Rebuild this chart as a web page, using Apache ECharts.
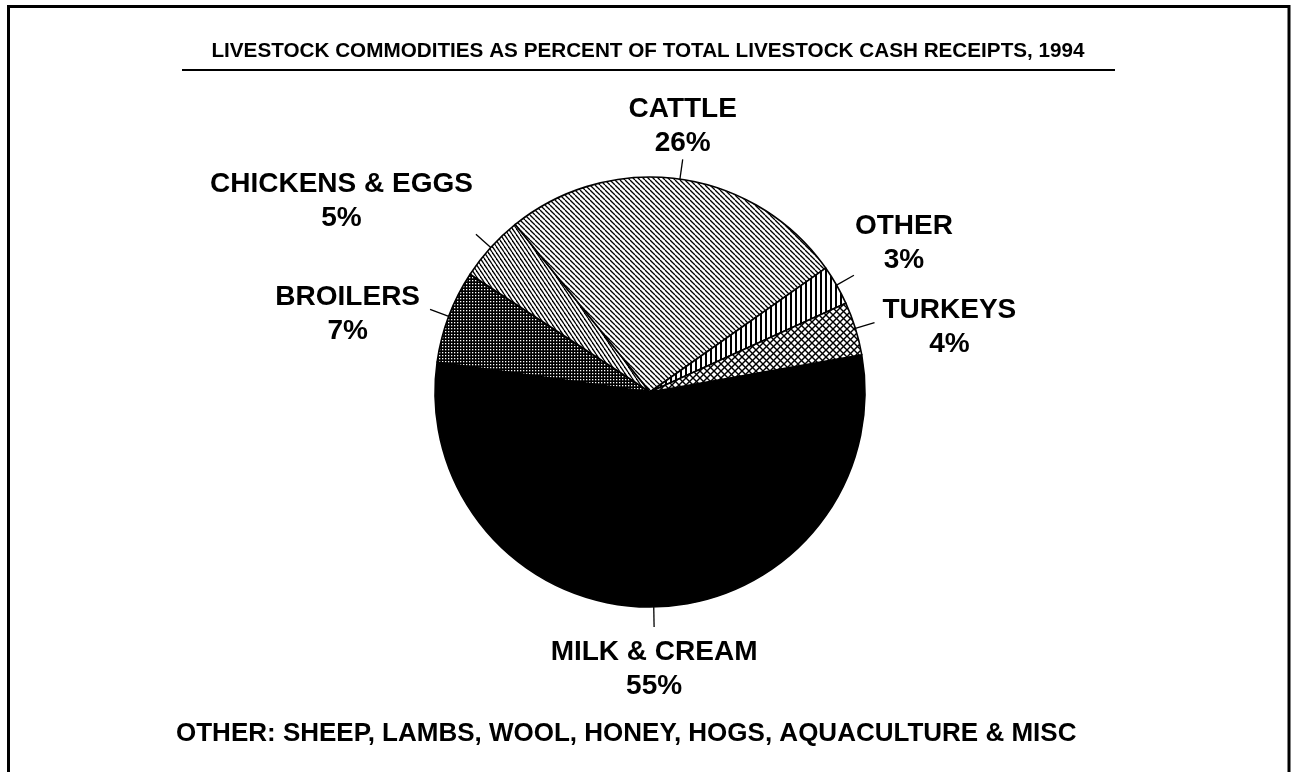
<!DOCTYPE html>
<html>
<head>
<meta charset="utf-8">
<script src="https://cdn.jsdelivr.net/npm/echarts@6/dist/echarts.min.js"></script>
<style>
  html, body { margin: 0; padding: 0; background: #fff; }
  #chart { width: 1291px; height: 772px; }
</style>
</head>
<body>
<div id="chart"></div>
<script>
// ---- data ----
const categories = ['MILK & CREAM', 'BROILERS', 'CHICKENS & EGGS', 'CATTLE', 'OTHER', 'TURKEYS'];
const percents = [55, 7, 5, 26, 3, 4];
const titleText = 'LIVESTOCK COMMODITIES AS PERCENT OF TOTAL LIVESTOCK CASH RECEIPTS, 1994';
const footnoteText = 'OTHER: SHEEP, LAMBS, WOOL, HONEY, HOGS, AQUACULTURE & MISC';

// ---- label placement relative to the end of each leader line ----
const labelAnchor = {
  'MILK & CREAM':    { side: 'center', dx: 0,   dy: 42 },
  'BROILERS':        { side: 'right',  dx: -10, dy: 5 },
  'CHICKENS & EGGS': { side: 'right',  dx: -3,  dy: -33 },
  'CATTLE':          { side: 'center', dx: 0,   dy: -33 },
  'OTHER':           { side: 'left',   dx: 1,   dy: -32 },
  'TURKEYS':         { side: 'left',   dx: 8,   dy: 4.5 }
};

// ---- hatch patterns ----
function tile(w, h, draw) {
  const c = document.createElement('canvas');
  c.width = w; c.height = h;
  const g = c.getContext('2d');
  g.fillStyle = '#fff'; g.fillRect(0, 0, w, h);
  g.strokeStyle = '#000'; g.fillStyle = '#000';
  draw(g, w, h);
  return { image: c, repeat: 'repeat' };
}
function diag(lw) {
  return function (g, w, h) {
    g.lineWidth = lw;
    for (let k = -1; k <= 1; k++) {
      g.beginPath(); g.moveTo(k * w, 0); g.lineTo(k * w + w, h); g.stroke();
    }
  };
}
const patterns = {
  'MILK & CREAM': '#000',
  'BROILERS': tile(3, 3, function (g) {
    g.fillRect(0, 0, 3, 3);
    g.fillStyle = '#fff'; g.fillRect(1, 1, 1.3, 1.3);
  }),
  'CHICKENS & EGGS': tile(4, 6, diag(1.3)),
  'CATTLE': tile(5, 5, diag(1.25)),
  'OTHER': tile(5, 5, function (g) {
    g.fillRect(0, 0, 2, 5);
  }),
  'TURKEYS': tile(7, 7, function (g, w, h) {
    g.lineWidth = 1.4;
    for (let k = -1; k <= 1; k++) {
      g.beginPath(); g.moveTo(k * w, 0); g.lineTo(k * w + w, h); g.stroke();
      g.beginPath(); g.moveTo(k * w + w, 0); g.lineTo(k * w, h); g.stroke();
    }
  })
};

const FONT = '"Liberation Sans", Arial, Helvetica, sans-serif';

const pieData = categories.map(function (name, i) {
  return { name: name, value: percents[i], itemStyle: { color: patterns[name] } };
});
const labelData = categories.map(function (name, i) {
  return { name: name, value: percents[i] };
});

const chart = echarts.init(document.getElementById('chart'), null, { renderer: 'canvas' });

const common = {
  type: 'pie',
  center: [650, 392],
  radius: 215,
  startAngle: 10,
  clockwise: true,
  avoidLabelOverlap: false,
  animation: false,
  emphasis: { disabled: true }
};

chart.setOption({
  backgroundColor: '#fff',
  animation: false,
  graphic: [
    { type: 'polyline', shape: { points: [[8.5, 772], [8.5, 6.5], [1289, 6.5], [1289, 772]] },
      style: { stroke: '#000', lineWidth: 3, fill: null }, silent: true },
    { type: 'line', shape: { x1: 182, y1: 70, x2: 1115, y2: 70 },
      style: { stroke: '#000', lineWidth: 2 }, silent: true },
    { type: 'text', x: 648, y: 51,
      style: { text: titleText, align: 'center', verticalAlign: 'middle',
               font: 'bold 20.7px ' + FONT, fill: '#000' }, silent: true },
    { type: 'text', x: 176, y: 734,
      style: { text: footnoteText, align: 'left', verticalAlign: 'middle',
               font: 'bold 26px ' + FONT, fill: '#000' }, silent: true }
  ],
  series: [
    Object.assign({}, common, {
      name: 'slices',
      data: pieData,
      itemStyle: { borderColor: '#000', borderWidth: 1.6 },
      label: { show: true, position: 'outside', formatter: '{b}', color: 'rgba(0,0,0,0)', fontSize: 10 },
      labelLine: { show: true, length: 20, length2: 0, lineStyle: { color: '#000', width: 1.3 } }
    }),
    Object.assign({}, common, {
      name: 'labels',
      silent: true,
      z: 5,
      data: labelData,
      itemStyle: { color: 'rgba(0,0,0,0)', borderWidth: 0 },
      label: {
        show: true, position: 'outside',
        formatter: '{b}\n{c}%',
        color: '#000', fontFamily: FONT, fontWeight: 'bold', fontSize: 28, lineHeight: 34
      },
      labelLine: { show: true, length: 20, length2: 0, lineStyle: { opacity: 0 } },
      labelLayout: function (p) {
        const P = p.labelLinePoints[1];
        const a = labelAnchor[categories[p.dataIndex]];
        const w = p.labelRect.width;
        let x = P[0] + a.dx;
        if (a.side === 'right') x -= w / 2;
        else if (a.side === 'left') x += w / 2;
        return { x: x, y: P[1] + a.dy, align: 'center', verticalAlign: 'middle' };
      }
    })
  ]
});
</script>
</body>
</html>
